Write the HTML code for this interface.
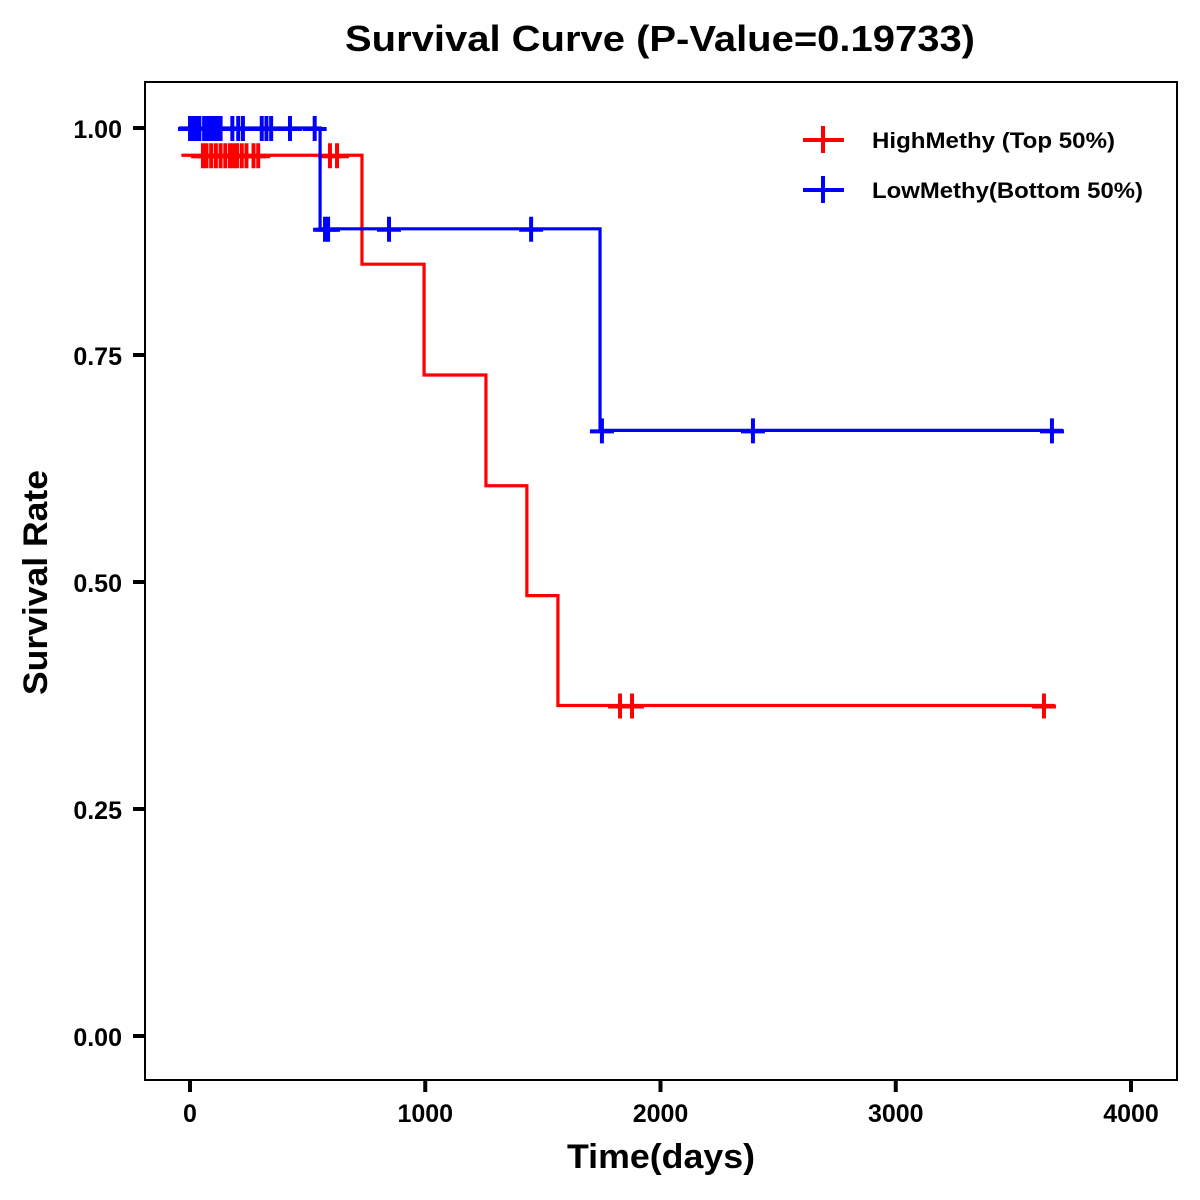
<!DOCTYPE html>
<html><head><meta charset="utf-8">
<style>
html,body{margin:0;padding:0;background:#fff;}
svg{display:block;font-family:"Liberation Sans",Arial,sans-serif;}
</style></head>
<body>
<svg id="chart" width="1200" height="1200" viewBox="0 0 1200 1200">
  <text x="345" y="51" textLength="630" lengthAdjust="spacingAndGlyphs" font-size="36" font-weight="bold">Survival Curve (P-Value=0.19733)</text>
  <rect x="145" y="82" width="1032" height="998" fill="none" stroke="#000" stroke-width="2"/>
  <g id="xaxis"></g>
  <g id="yaxis"></g>
  <text x="567" y="1168" textLength="188" lengthAdjust="spacingAndGlyphs" font-size="34" font-weight="bold">Time(days)</text>
  <text transform="translate(47,695) rotate(-90)" textLength="225" lengthAdjust="spacingAndGlyphs" font-size="34" font-weight="bold">Survival Rate</text>
  <g id="series"></g>
  <g>
    <g>
      <line x1="803" y1="140" x2="844" y2="140" stroke="#ff0000" stroke-width="4"/>
      <line x1="823" y1="126" x2="823" y2="153" stroke="#ff0000" stroke-width="4"/>
      <text x="872" y="148" textLength="243" lengthAdjust="spacingAndGlyphs" font-size="22" font-weight="bold">HighMethy (Top 50%)</text>
    </g>
    <g>
      <line x1="803" y1="190" x2="844" y2="190" stroke="#0000ff" stroke-width="4"/>
      <line x1="823" y1="176" x2="823" y2="203" stroke="#0000ff" stroke-width="4"/>
      <text x="872" y="198" textLength="271" lengthAdjust="spacingAndGlyphs" font-size="22" font-weight="bold">LowMethy(Bottom 50%)</text>
    </g>
  </g>
</svg>
<script>
const xTicks = [0, 1000, 2000, 3000, 4000];
const yTicks = [0, 0.25, 0.5, 0.75, 1.0];
const yTickLabels = ["0.00", "0.25", "0.50", "0.75", "1.00"];
const highTimes = [10, 731, 995, 1258, 1432, 1564];
const highSurv = [0.97, 0.850, 0.728, 0.606, 0.485, 0.364];
const highEnd = 3630;
const highCensor = [55,70,90,110,130,150,170,185,200,220,240,270,290,595,625,1828,1879,3630];
const lowTimes = [0, 553, 1743];
const lowSurv = [1.0, 0.889, 0.667];
const lowEnd = 3664;
const lowCensor = [0,5,10,15,20,25,30,35,40,60,70,80,90,100,110,120,130,180,205,225,305,325,345,425,530,574,587,846,1450,1751,2393,3664];

const NS = "http://www.w3.org/2000/svg";
function sx(t){ return 190 + t * 0.23525; }
function sy(v){ return 1036 - v * 908; }

const xg = document.getElementById('xaxis');
xTicks.forEach(t => {
  const l = document.createElementNS(NS, 'line');
  l.setAttribute('x1', sx(t)); l.setAttribute('x2', sx(t));
  l.setAttribute('y1', 1080); l.setAttribute('y2', 1092);
  l.setAttribute('stroke', '#000'); l.setAttribute('stroke-width', 4);
  
  
  xg.appendChild(l);
  const tx = document.createElementNS(NS, 'text');
  tx.setAttribute('x', sx(t)); tx.setAttribute('y', 1122);
  tx.setAttribute('text-anchor', 'middle'); tx.setAttribute('font-size', 25); tx.setAttribute('font-weight', 'bold');
  tx.textContent = t;
  
  
  xg.appendChild(tx);
});
const yg = document.getElementById('yaxis');
yTicks.forEach((v, i) => {
  const l = document.createElementNS(NS, 'line');
  l.setAttribute('x1', 133); l.setAttribute('x2', 145);
  l.setAttribute('y1', sy(v)); l.setAttribute('y2', sy(v));
  l.setAttribute('stroke', '#000'); l.setAttribute('stroke-width', 4);
  
  
  yg.appendChild(l);
  const tx = document.createElementNS(NS, 'text');
  tx.setAttribute('x', 122); tx.setAttribute('y', sy(v) + 10);
  tx.setAttribute('text-anchor', 'end'); tx.setAttribute('font-size', 25); tx.setAttribute('font-weight', 'bold');
  tx.textContent = yTickLabels[i];
  
  
  yg.appendChild(tx);
});

function survAt(times, surv, t){
  let s = surv[0];
  for (let i = 0; i < times.length; i++) if (t >= times[i]) s = surv[i];
  return s;
}
function drawSeries(times, surv, end, censor, color, name){
  const sg = document.getElementById('series');
  let d = 'M' + (sx(times[0]) - 11) + ',' + sy(surv[0]);
  for (let i = 1; i < times.length; i++) {
    d += ' H' + sx(times[i]) + ' V' + sy(surv[i]);
  }
  d += ' H' + (sx(end) + 11);
  const p = document.createElementNS(NS, 'path');
  p.setAttribute('d', d); p.setAttribute('fill', 'none');
  p.setAttribute('stroke', color); p.setAttribute('stroke-width', 3.2);
  
  
  sg.appendChild(p);
  censor.forEach(t => {
    const y = sy(survAt(times, surv, t));
    const c = document.createElementNS(NS, 'path');
    c.setAttribute('d', 'M' + sx(t) + ',' + (y - 12) + ' V' + (y + 13) + ' M' + (sx(t) - 12) + ',' + (y + 1) + ' H' + (sx(t) + 12));
    c.setAttribute('stroke', color); c.setAttribute('stroke-width', 4); c.setAttribute('fill', 'none');
    
    
    sg.appendChild(c);
  });
}
drawSeries(highTimes, highSurv, highEnd, highCensor, '#ff0000', 'high-methy');
drawSeries(lowTimes, lowSurv, lowEnd, lowCensor, '#0000ff', 'low-methy');
</script>
</body></html>
